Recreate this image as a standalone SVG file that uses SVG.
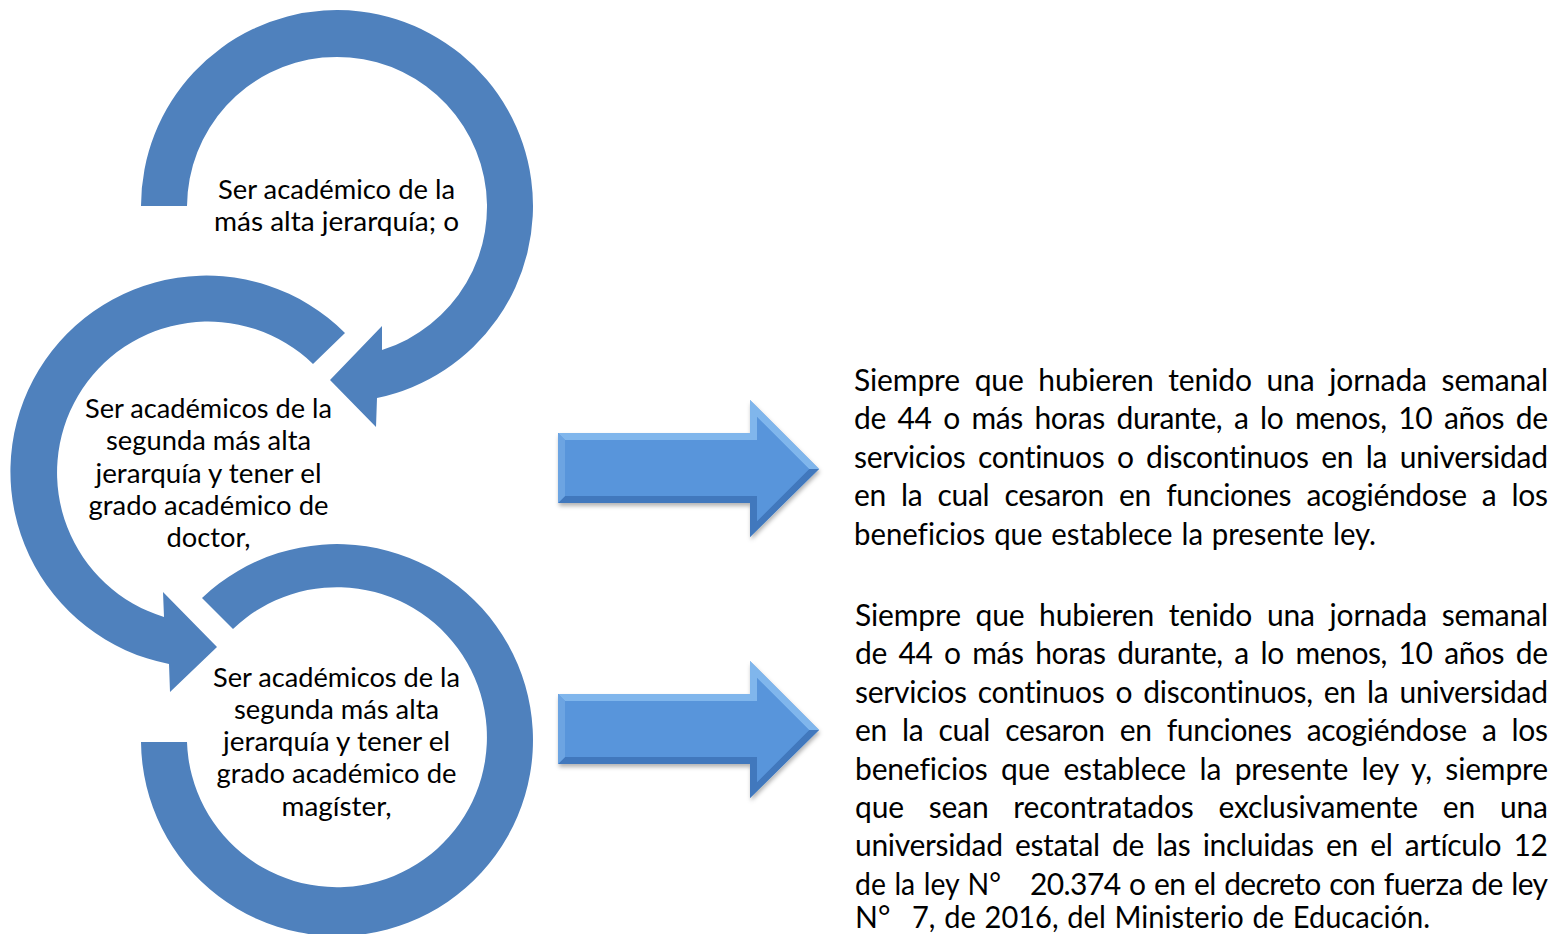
<svg xmlns="http://www.w3.org/2000/svg" width="1554" height="934" viewBox="0 0 1554 934">
<style>
.ring{fill:#4F81BD;}
.ct{font-family:Lato,"Liberation Sans",sans-serif;font-size:27.5px;fill:#000;text-anchor:middle;font-variant-ligatures:none;}
.rt{font-family:Lato,"Liberation Sans",sans-serif;font-size:30px;fill:#000;font-variant-ligatures:none;}
.face{fill:#5895DB;}
.ftop{fill:#80B6EC;}
.fbot{fill:#4178BD;}
.fleft{fill:#6CA4E2;}
</style>
<defs>
<filter id="sh" x="-10%" y="-20%" width="130%" height="150%">
<feDropShadow dx="1" dy="3" stdDeviation="2" flood-color="#000" flood-opacity="0.3"/>
</filter>
<g id="blockArrow">
<path d="M558 433 H750 V400 L819 469 L750 537 V503 H558 Z" class="face" filter="url(#sh)"/>
<path d="M558 433 H750 V400 L819 469 L809 469 L757 417 V440 H565 Z" class="ftop"/>
<path d="M558 503 H750 V537 L819 469 L809 469 L757 521 V496 H565 Z" class="fbot"/>
<path d="M558 433 L565 440 V496 L558 503 Z" class="fleft"/>
<path d="M565 440 H757 V417 L809 469 L757 521 V496 H565 Z" class="face"/>
</g>
</defs>
<rect width="1554" height="934" fill="#fff"/>

<g id="node-c1">
<path class="ring" d="M141 206 A196 196 0 1 1 377 398 L376 427 L330 380 L382 326 L382 350 A150 150 0 1 0 187 206 Z"/>
<text class="ct" x="336.5" y="199" textLength="237" lengthAdjust="spacingAndGlyphs">Ser académico de la</text>
<text class="ct" x="336.5" y="231" textLength="245" lengthAdjust="spacingAndGlyphs">más alta jerarquía; o</text>
</g>

<g id="node-c2">
<path class="ring" d="M345 333 A196 196 0 1 0 169 664 L170 692 L217 647 L163 592 L164 617 A151 151 0 1 1 313 364 Z"/>
<text class="ct" x="208.5" y="418" textLength="247" lengthAdjust="spacingAndGlyphs">Ser académicos de la</text>
<text class="ct" x="208.5" y="450.3" textLength="205" lengthAdjust="spacingAndGlyphs">segunda más alta</text>
<text class="ct" x="208.5" y="482.6" textLength="226" lengthAdjust="spacingAndGlyphs">jerarquía y tener el</text>
<text class="ct" x="208.5" y="514.9" textLength="240" lengthAdjust="spacingAndGlyphs">grado académico de</text>
<text class="ct" x="208.5" y="547.2" textLength="84" lengthAdjust="spacingAndGlyphs">doctor,</text>
</g>

<g id="node-c3">
<path class="ring" d="M202 598 A196 196 0 1 1 141 742 L187 742 A150 150 0 1 0 233 629 Z"/>
<text class="ct" x="336.5" y="686.5" textLength="247" lengthAdjust="spacingAndGlyphs">Ser académicos de la</text>
<text class="ct" x="336.5" y="718.8" textLength="205" lengthAdjust="spacingAndGlyphs">segunda más alta</text>
<text class="ct" x="336.5" y="751.1" textLength="227" lengthAdjust="spacingAndGlyphs">jerarquía y tener el</text>
<text class="ct" x="336.5" y="783.4" textLength="240" lengthAdjust="spacingAndGlyphs">grado académico de</text>
<text class="ct" x="336.5" y="815.7" textLength="110" lengthAdjust="spacingAndGlyphs">magíster,</text>
</g>

<g id="connectors">
<use href="#blockArrow"/>
<use href="#blockArrow" transform="translate(0 261)"/>
</g>

<g id="node-t1">
<text class="rt" x="854" y="391" word-spacing="7.1" textLength="694" lengthAdjust="spacing">Siempre que hubieren tenido una jornada semanal</text>
<text class="rt" x="854" y="429.4" word-spacing="4.4" textLength="694" lengthAdjust="spacing">de 44 o más horas durante, a lo menos, 10 años de</text>
<text class="rt" x="854" y="467.8" word-spacing="5.1" textLength="694" lengthAdjust="spacing">servicios continuos o discontinuos en la universidad</text>
<text class="rt" x="854" y="506.2" word-spacing="7.8" textLength="694" lengthAdjust="spacing">en la cual cesaron en funciones acogiéndose a los</text>
<text class="rt" x="854" y="544.6" word-spacing="1.4" textLength="522" lengthAdjust="spacingAndGlyphs">beneficios que establece la presente ley.</text>
</g>

<g id="node-t2">
<text class="rt" x="855" y="626" word-spacing="7.1" textLength="693" lengthAdjust="spacing">Siempre que hubieren tenido una jornada semanal</text>
<text class="rt" x="855" y="664.4" word-spacing="4.4" textLength="693" lengthAdjust="spacing">de 44 o más horas durante, a lo menos, 10 años de</text>
<text class="rt" x="855" y="702.8" word-spacing="3.6" textLength="693" lengthAdjust="spacing">servicios continuos o discontinuos, en la universidad</text>
<text class="rt" x="855" y="741.2" word-spacing="7.8" textLength="693" lengthAdjust="spacing">en la cual cesaron en funciones acogiéndose a los</text>
<text class="rt" x="855" y="779.6" word-spacing="6" textLength="693" lengthAdjust="spacing">beneficios que establece la presente ley y, siempre</text>
<text class="rt" x="855" y="818" word-spacing="17.3" textLength="693" lengthAdjust="spacing">que sean recontratados exclusivamente en una</text>
<text class="rt" x="855" y="856.4" word-spacing="4.9" textLength="693" lengthAdjust="spacing">universidad estatal de las incluidas en el artículo 12</text>
<text class="rt" x="855" y="894.8" word-spacing="1.4" textLength="146" lengthAdjust="spacingAndGlyphs">de la ley N°</text>
<text class="rt" x="1030" y="894.8" word-spacing="1.4" textLength="518" lengthAdjust="spacing">20.374 o en el decreto con fuerza de ley</text>
<text class="rt" x="855" y="928">N°</text>
<text class="rt" x="912" y="928" word-spacing="1.4" textLength="518" lengthAdjust="spacingAndGlyphs">7, de 2016, del Ministerio de Educación.</text>
</g>
</svg>
